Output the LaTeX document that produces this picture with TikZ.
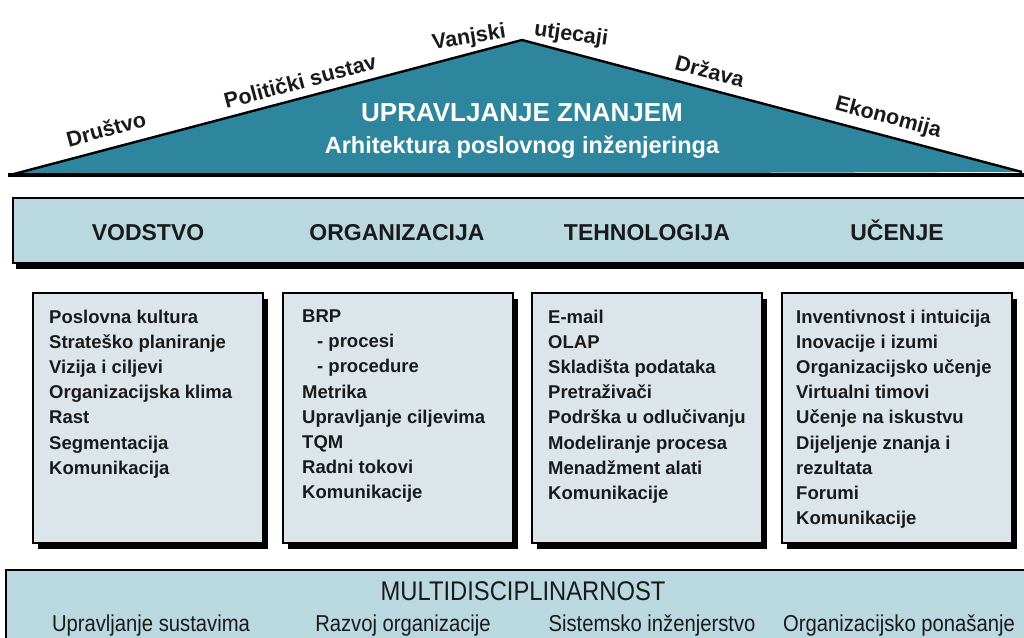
\documentclass[tikz,border=0pt]{standalone}
\usepackage{fontspec}
\setmainfont{Liberation Sans}
\newfontfamily\narrowfont[FakeStretch=0.88]{Liberation Sans}
\usetikzlibrary{shadows}
\definecolor{roofc}{HTML}{2E869E}
\definecolor{bandc}{HTML}{B9D8E0}
\definecolor{boxc}{HTML}{DCE6EA}
\definecolor{txtc}{HTML}{1A1A1A}
\tikzset{
  boxst/.style={draw=black, line width=2pt, fill=boxc, minimum width=230, minimum height=250,
    inner sep=0, drop shadow={shadow xshift=5pt, shadow yshift=-6pt, fill=black, opacity=1}},
  bandst/.style={draw=black, line width=2.4pt, fill=bandc, inner sep=0,
    drop shadow={shadow xshift=3pt, shadow yshift=-6pt, fill=black, opacity=1}},
  listst/.style={anchor=north west, inner sep=0, align=left, text=txtc,
    font=\fontsize{18.5}{25.2}\selectfont\bfseries},
  headst/.style={anchor=base, inner sep=0, text=txtc, font=\fontsize{23}{26}\selectfont\bfseries},
  slopest/.style={inner sep=0, text=txtc, font=\fontsize{21.5}{24}\selectfont\bfseries},
  multist/.style={anchor=base, inner sep=0, text=txtc, font=\narrowfont\fontsize{23}{26}\selectfont},
}
\begin{document}
\begin{tikzpicture}[x=1pt,y=-1pt]
\useasboundingbox (0,0) rectangle (1024,637);
\clip (0,0) rectangle (1024,637);
\fill[white] (0,0) rectangle (1024,637);

% roof
\coordinate (rl) at (10,175);
\coordinate (ra) at (522,40);
\coordinate (rr) at (1022,172);
\coordinate (bl) at (8,175);
\coordinate (br) at (1030,175);
\fill[roofc] (rl) -- (ra) -- (rr) -- cycle;
\draw[line width=2.4pt, line join=miter] (rl) -- (ra) -- (rr);
\draw[line width=4.5pt] (bl) -- (br);
\node[anchor=base, inner sep=0, text=white, font=\fontsize{26}{30}\selectfont\bfseries] (title) at (522,121) {UPRAVLJANJE ZNANJEM};
\node[anchor=base, inner sep=0, text=white, font=\fontsize{23.5}{28}\selectfont\bfseries] (subtitle) at (522,153) {Arhitektura poslovnog inženjeringa};

\node[slopest, rotate=15] (drustvo) at (106,129) {Društvo};
\node[slopest, rotate=15] (polit) at (300,81) {Politički sustav};
\node[slopest, rotate=9] (vanjski) at (469,38) {Vanjski};
\node[slopest, rotate=-8] (utjecaji) at (571,35) {utjecaji};
\node[slopest, rotate=-15] (drzava) at (710,71) {Država};
\node[slopest, rotate=-15] (ekon) at (888,118) {Ekonomija};

% header band
\node[bandst, anchor=north west, minimum width=1030, minimum height=65] (hdr) at (12,197) {};
\node[headst] (h1) at (148,240) {VODSTVO};
\node[headst] (h2) at (397,240) {ORGANIZACIJA};
\node[headst] (h3) at (647,240) {TEHNOLOGIJA};
\node[headst] (h4) at (897,240) {UČENJE};

% boxes
\node[boxst] (b1) at (148,418) {};
\node[boxst] (b2) at (397.5,418) {};
\node[boxst] (b3) at (647,418) {};
\node[boxst] (b4) at (897,418) {};

\node[listst] (t1) at (49,309.5) {Poslovna kultura\\Strateško planiranje\\Vizija i ciljevi\\Organizacijska klima\\Rast\\Segmentacija\\Komunikacija};
\node[listst] (t2) at (302,309.5) {BRP\\\hspace*{15pt}- procesi\\\hspace*{15pt}- procedure\\Metrika\\Upravljanje ciljevima\\TQM\\Radni tokovi\\Komunikacije};
\node[listst] (t3) at (548,309.5) {E-mail\\OLAP\\Skladišta podataka\\Pretraživači\\Podrška u odlučivanju\\Modeliranje procesa\\Menadžment alati\\Komunikacije};
\node[listst] (t4) at (796,309.5) {Inventivnost i intuicija\\Inovacije i izumi\\Organizacijsko učenje\\Virtualni timovi\\Učenje na iskustvu\\Dijeljenje znanja i\\rezultata\\Forumi\\Komunikacije};

% bottom band
\node[draw=black, line width=2.2pt, fill=bandc, anchor=north west, minimum width=1040, minimum height=90, inner sep=0] (foot) at (5,569) {};
\node[multist, font=\narrowfont\fontsize{27}{30}\selectfont] (multi) at (523,600) {MULTIDISCIPLINARNOST};
\node[multist] (m1) at (151,631) {Upravljanje sustavima};
\node[multist] (m2) at (403,631) {Razvoj organizacije};
\node[multist] (m3) at (652,631) {Sistemsko inženjerstvo};
\node[multist] (m4) at (899,631) {Organizacijsko ponašanje};
\end{tikzpicture}
\end{document}
